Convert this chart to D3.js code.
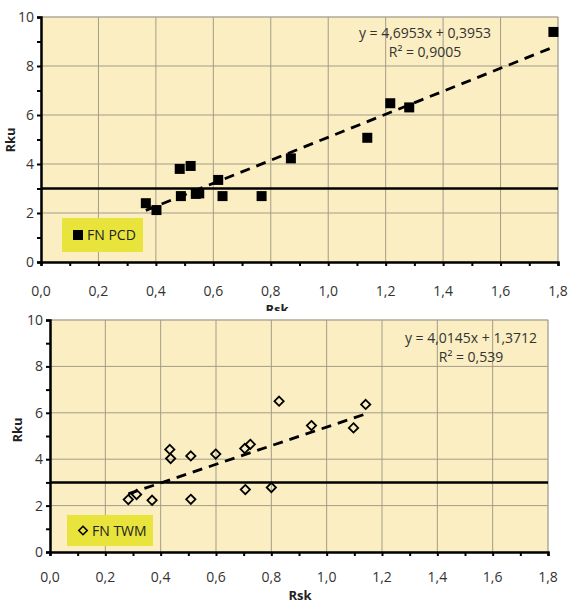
<!DOCTYPE html>
<html>
<head>
    <script src="https://d3js.org/d3.v7.min.js"></script>
    <style>
        body { margin: 0; background: #fff; }
        text { font-family: "Open Sans", "Noto Sans", sans-serif; }
    </style>
</head>
<body>
    <div id="chart"></div>
    <script>
        // tick labels (comma decimal, as in the original)
        var xTicks = [0, 0.2, 0.4, 0.6, 0.8, 1.0, 1.2, 1.4, 1.6, 1.8];
        var yTicks = [0, 2, 4, 6, 8, 10];
        var threshold = 3;

        // FN PCD series (Rsk, Rku)
        var pcdRsk = [0.365, 0.402, 0.483, 0.487, 0.521, 0.539, 0.551, 0.617, 0.632, 0.768, 0.870, 1.136, 1.216, 1.282, 1.784];
        var pcdRku = [2.40, 2.12, 3.80, 2.69, 3.92, 2.78, 2.80, 3.35, 2.69, 2.69, 4.23, 5.07, 6.48, 6.31, 9.39];
        var pcdFit = [4.6953, 0.3953]; // slope, intercept
        var pcdEq = ["y = 4,6953x + 0,3953", "R² = 0,9005"];

        // FN TWM series (Rsk, Rku)
        var twmRsk = [0.283, 0.313, 0.369, 0.433, 0.436, 0.509, 0.509, 0.599, 0.704, 0.724, 0.706, 0.800, 0.828, 0.945, 1.097, 1.141];
        var twmRku = [2.26, 2.48, 2.23, 4.42, 4.03, 4.14, 2.27, 4.22, 4.46, 4.64, 2.69, 2.78, 6.50, 5.45, 5.35, 6.36];
        var twmFit = [4.0145, 1.3712];
        var twmEq = ["y = 4,0145x + 1,3712", "R² = 0,539"];

        var width = 568, height = 603;
        var svg = d3.select("#chart").append("svg")
            .attr("width", width)
            .attr("height", height);

        var fmt = function (d) { return d3.format(".1f")(d).replace(".", ","); };

        function drawPanel(g, p) {
            var x = d3.scaleLinear().domain([0, 1.8]).range([p.left, p.right]);
            var y = d3.scaleLinear().domain([0, 10]).range([p.bottom, p.top]);

            // plot background
            g.append("rect")
                .attr("x", p.left).attr("y", p.top)
                .attr("width", p.right - p.left).attr("height", p.bottom - p.top)
                .attr("fill", "#faeec2")
                .attr("stroke", "#c8c4b8").attr("stroke-width", 1);

            // grid
            g.append("g").selectAll("line")
                .data(xTicks.slice(1))
                .join("line")
                .attr("x1", d => x(d)).attr("x2", d => x(d))
                .attr("y1", p.top).attr("y2", p.bottom)
                .attr("stroke", "#a39d88").attr("stroke-width", 1);
            g.append("g").selectAll("line")
                .data(yTicks.slice(1))
                .join("line")
                .attr("x1", p.left).attr("x2", p.right)
                .attr("y1", d => y(d)).attr("y2", d => y(d))
                .attr("stroke", "#a39d88").attr("stroke-width", 1);

            // axes
            var xAxis = d3.axisBottom(x).tickValues(d3.range(0, 1.81, 0.1)).tickSize(4).tickFormat("");
            g.append("g").attr("transform", "translate(0," + p.bottom + ")").call(xAxis)
                .call(a => a.selectAll("line").attr("stroke-width", 2))
                .call(a => a.select(".domain").attr("stroke-width", 2.5));
            var yAxis = d3.axisLeft(y).tickValues(d3.range(0, 10.1, 1)).tickSize(4).tickFormat("");
            g.append("g").attr("transform", "translate(" + p.left + ",0)").call(yAxis)
                .call(a => a.selectAll("line").attr("stroke-width", 2))
                .call(a => a.select(".domain").attr("stroke-width", 2.5));

            // tick labels
            g.append("g").selectAll("text")
                .data(xTicks)
                .join("text")
                .attr("x", d => x(d)).attr("y", p.bottom + p.xLabOff)
                .attr("text-anchor", "middle")
                .attr("font-size", 14).attr("fill", "#333")
                .text(fmt);
            g.append("g").selectAll("text")
                .data(yTicks)
                .join("text")
                .attr("x", p.left - 7).attr("y", d => y(d) + 5)
                .attr("text-anchor", "end")
                .attr("font-size", 14).attr("fill", "#333")
                .text(d => d);

            // axis titles
            g.append("text")
                .attr("x", p.rskX).attr("y", p.rskY)
                .attr("text-anchor", "middle")
                .attr("font-size", 13).attr("font-weight", "bold").attr("fill", "#222")
                .text("Rsk");
            g.append("text")
                .attr("transform", "translate(" + p.rkuX + "," + p.rkuY + ") rotate(-90)")
                .attr("text-anchor", "middle")
                .attr("font-size", 13).attr("font-weight", "bold").attr("fill", "#222")
                .text("Rku");

            // threshold line
            g.append("line")
                .attr("x1", p.left).attr("x2", p.right)
                .attr("y1", y(threshold)).attr("y2", y(threshold))
                .attr("stroke", "#000").attr("stroke-width", 2.5);

            // trend line
            var xs = d3.extent(p.xs);
            g.append("line")
                .attr("x1", x(xs[0])).attr("y1", y(p.fit[0] * xs[0] + p.fit[1]))
                .attr("x2", x(xs[1])).attr("y2", y(p.fit[0] * xs[1] + p.fit[1]))
                .attr("stroke", "#000").attr("stroke-width", 2.8)
                .attr("stroke-dasharray", "10,7");

            // points
            var pts = p.xs.map((v, i) => [v, p.ys[i]]);
            if (p.marker === "square") {
                g.append("g").selectAll("rect")
                    .data(pts)
                    .join("rect")
                    .attr("x", d => x(d[0]) - 5).attr("y", d => y(d[1]) - 5)
                    .attr("width", 10).attr("height", 10)
                    .attr("fill", "#000");
            } else {
                var sym = d3.symbol().type(d3.symbolDiamond2).size(55);
                g.append("g").selectAll("path")
                    .data(pts)
                    .join("path")
                    .attr("transform", d => "translate(" + x(d[0]) + "," + y(d[1]) + ")")
                    .attr("d", sym)
                    .attr("fill", "none").attr("stroke", "#000").attr("stroke-width", 1.8);
            }

            // equation
            g.append("g").selectAll("text")
                .data(p.eq)
                .join("text")
                .attr("x", p.eqX).attr("y", (d, i) => p.eqY + i * 19)
                .attr("text-anchor", "middle")
                .attr("font-size", 14).attr("fill", "#333")
                .text(d => d);

            // legend
            var lg = g.append("g");
            lg.append("rect")
                .attr("x", p.leg[0]).attr("y", p.leg[1])
                .attr("width", p.leg[2]).attr("height", p.leg[3])
                .attr("fill", "#e8e43c");
            var mx = p.leg[0] + 16, my = p.leg[1] + p.leg[3] / 2;
            if (p.marker === "square") {
                lg.append("rect").attr("x", mx - 5).attr("y", my - 5)
                    .attr("width", 10).attr("height", 10).attr("fill", "#000");
            } else {
                lg.append("path").attr("transform", "translate(" + mx + "," + my + ")")
                    .attr("d", d3.symbol().type(d3.symbolDiamond2).size(45))
                    .attr("fill", "none").attr("stroke", "#000").attr("stroke-width", 1.6);
            }
            lg.append("text")
                .attr("x", mx + 9).attr("y", my + 5)
                .attr("font-size", 14).attr("fill", "#222")
                .text(p.name);
        }

        drawPanel(svg.append("g"), {
            left: 41, right: 558, top: 17, bottom: 262,
            xLabOff: 34, rskX: 277, rskY: 314, rkuX: 15, rkuY: 140,
            xs: pcdRsk, ys: pcdRku, fit: pcdFit, marker: "square",
            eq: pcdEq, eqX: 425, eqY: 38,
            leg: [62, 218, 81, 34], name: "FN PCD"
        });

        // white page of the second panel overlaps the first one's title
        svg.append("rect").attr("x", 0).attr("y", 311)
            .attr("width", width).attr("height", height - 311).attr("fill", "#fff");

        drawPanel(svg.append("g"), {
            left: 50, right: 548, top: 320, bottom: 552,
            xLabOff: 30, rskX: 300, rskY: 600, rkuX: 22, rkuY: 430,
            xs: twmRsk, ys: twmRku, fit: twmFit, marker: "diamond",
            eq: twmEq, eqX: 471, eqY: 343,
            leg: [67, 515, 86, 31], name: "FN TWM"
        });
    </script>
</body>
</html>
